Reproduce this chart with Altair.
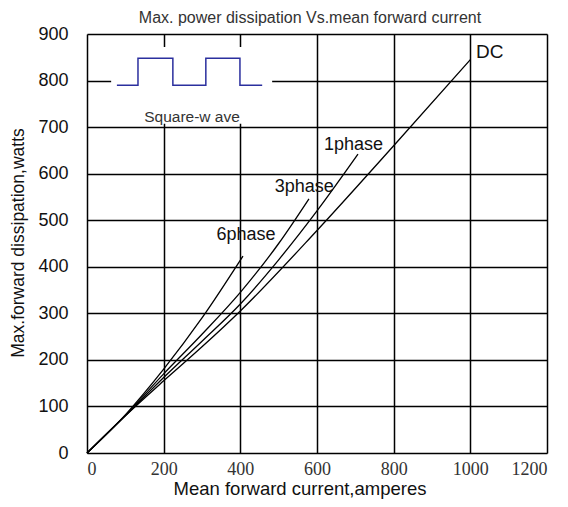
import altair as alt
import pandas as pd

# Curves (mean forward current, amperes -> max forward dissipation, watts)
dc_x = [0, 100, 200, 300, 400, 600, 800, 1000]
dc_y = [0, 80, 155, 228, 305, 478, 660, 845]
p1_x = [0, 100, 200, 300, 400, 500, 600, 707]
p1_y = [0, 80, 162, 240, 320, 415, 520, 642]
p3_x = [0, 100, 200, 300, 400, 500, 579]
p3_y = [0, 81, 170, 255, 345, 450, 546]
p6_x = [0, 100, 200, 300, 407]
p6_y = [0, 82, 180, 290, 423]

label_text = ["DC", "1phase", "3phase", "6phase"]
label_x = [1015, 695, 567, 415]
label_y = [861, 661, 571, 468]
label_align = ["left", "center", "center", "center"]

wave_x = [78, 133, 133, 224, 224, 310, 310, 399, 399, 457]
wave_y = [790, 790, 848, 848, 790, 790, 848, 848, 790, 790]

box_x = [63]
box_x2 = [483]
box_y = [707]
box_y2 = [872]

x_ticks = [0, 200, 400, 600, 800, 1000, 1200]
y_ticks = [0, 100, 200, 300, 400, 500, 600, 700, 800, 900]

rows = []
for name, xs, ys in [("DC", dc_x, dc_y), ("1phase", p1_x, p1_y),
                     ("3phase", p3_x, p3_y), ("6phase", p6_x, p6_y)]:
    for i, (a, b) in enumerate(zip(xs, ys)):
        rows.append({"series": name, "x": a, "y": b, "i": i})
curves_df = pd.DataFrame(rows)
labels_df = pd.DataFrame({"t": label_text, "x": label_x, "y": label_y, "a": label_align})
wave_df = pd.DataFrame({"x": wave_x, "y": wave_y, "i": list(range(len(wave_x)))})
box_df = pd.DataFrame({"x": box_x, "x2": box_x2, "y": box_y, "y2": box_y2})

xs = alt.Scale(domain=[0, 1200], nice=False, zero=False)
ys = alt.Scale(domain=[0, 900], nice=False, zero=False)

x_axis = alt.Axis(values=x_ticks, format="d", grid=True, gridColor="black", gridWidth=1.5, gridOpacity=1,
                  ticks=False, domain=False, labelFont="Liberation Serif", labelFontSize=18,
                  labelColor="#333", labelPadding=7, title=None)
y_axis = alt.Axis(values=y_ticks, format="d", grid=True, gridColor="black", gridWidth=1.5, gridOpacity=1,
                  ticks=False, domain=False, labelFont="Liberation Sans", labelFontSize=18,
                  labelColor="#111", labelPadding=19, title=None)

curves = alt.Chart(curves_df).mark_line(color="black", strokeWidth=1.3, interpolate="monotone").encode(
    x=alt.X("x:Q", scale=xs, axis=x_axis),
    y=alt.Y("y:Q", scale=ys, axis=y_axis),
    detail="series:N",
    order="i:Q",
)

box = alt.Chart(box_df).mark_rect(color="white").encode(
    x=alt.X("x:Q", scale=xs), x2="x2:Q",
    y=alt.Y("y:Q", scale=ys), y2="y2:Q",
)

wave = alt.Chart(wave_df).mark_line(color="#2b2f9e", strokeWidth=1.5).encode(
    x=alt.X("x:Q", scale=xs), y=alt.Y("y:Q", scale=ys), order="i:Q"
)

wave_text = alt.Chart(pd.DataFrame({"t": ["Square-w ave"], "x": [274], "y": [722]})).mark_text(
    font="Liberation Sans", fontSize=15.5, color="#333"
).encode(x=alt.X("x:Q", scale=xs), y=alt.Y("y:Q", scale=ys), text="t:N")

lab_left = alt.Chart(labels_df[labels_df.a == "left"]).mark_text(
    font="Liberation Sans", fontSize=19, color="#111", align="left"
).encode(x=alt.X("x:Q", scale=xs), y=alt.Y("y:Q", scale=ys), text="t:N")
lab_center = alt.Chart(labels_df[labels_df.a == "center"]).mark_text(
    font="Liberation Sans", fontSize=18, color="#111", align="center"
).encode(x=alt.X("x:Q", scale=xs), y=alt.Y("y:Q", scale=ys), text="t:N")

title = alt.Chart(pd.DataFrame({"t": ["Max. power dissipation  Vs.mean  forward  current"]})).mark_text(
    font="Liberation Sans", fontSize=16, color="#333"
).encode(x=alt.value(223), y=alt.value(-16), text="t:N")

xtitle = alt.Chart(pd.DataFrame({"t": ["Mean forward  current,amperes"]})).mark_text(
    font="Liberation Sans", fontSize=18.5, color="#111"
).encode(x=alt.value(213), y=alt.value(455), text="t:N")

ytitle = alt.Chart(pd.DataFrame({"t": ["Max.forward  dissipation,watts"]})).mark_text(
    font="Liberation Sans", fontSize=17.5, color="#111", angle=270
).encode(x=alt.value(-68), y=alt.value(209), text="t:N")

chart = alt.layer(curves, box, wave, wave_text, lab_left, lab_center, title, xtitle, ytitle).properties(
    width=460, height=419,
    autosize=alt.AutoSizeParams(type="none"),
    padding={"left": 79, "top": 26, "right": 13, "bottom": 46},
).configure_view(stroke="black", strokeWidth=1.5).configure(background="white")

chart.save("out.html", embed_options={"renderer": "svg", "actions": False})
